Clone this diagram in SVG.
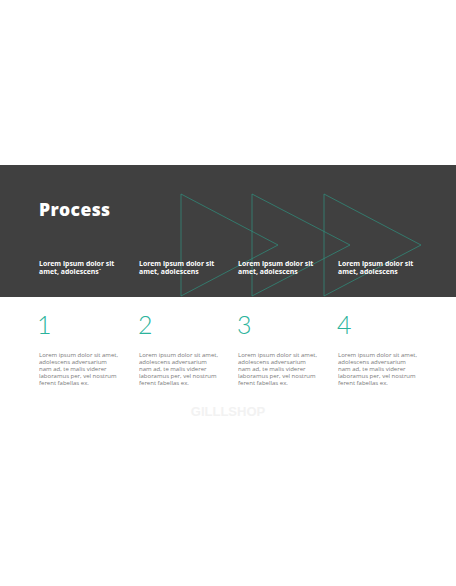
<svg xmlns="http://www.w3.org/2000/svg" width="456" height="586" viewBox="0 0 456 586">
<style>
.tri{fill:none;stroke:#2f8f7d;stroke-width:0.9;stroke-opacity:0.8}
.sub{font-family:"Open Sans","Liberation Sans",sans-serif;font-weight:700;font-size:6.9px;fill:#ffffff}
.num{font-family:Lato,"Liberation Sans",sans-serif;font-weight:300;font-size:25px;fill:#2bb39c}
.body{font-family:"Open Sans","Liberation Sans",sans-serif;font-size:6px;fill:#7a7a7a}
</style>
<rect width="456" height="586" fill="#ffffff"/>
<rect x="0" y="165" width="456" height="132" fill="#404040"/>
<g id="triangles">
<polygon class="tri" points="181,194 278,245 181,296"/>
<polygon class="tri" points="252,194 350,245 252,296"/>
<polygon class="tri" points="324,194 421,245 324,296"/>
</g>
<text id="title" x="39" y="216" font-family="'Open Sans','Liberation Sans',sans-serif" font-weight="800" font-size="17.5" letter-spacing="0.4" fill="#ffffff">Process</text>
<g id="step1">
<text class="sub" x="39" y="266">Lorem ipsum dolor sit</text>
<text class="sub" x="39" y="274">amet, adolescens`</text>
<text class="num" x="37" y="334">1</text>
<text class="body"><tspan x="39" y="357">Lorem ipsum dolor sit amet,</tspan><tspan x="39" y="364">adolescens adversarium</tspan><tspan x="39" y="371">nam ad, te malis viderer</tspan><tspan x="39" y="378">laboramus per, vel nostrum</tspan><tspan x="39" y="385">ferent fabellas ex.</tspan></text>
</g>
<g id="step2">
<text class="sub" x="139" y="266">Lorem ipsum dolor sit</text>
<text class="sub" x="139" y="274">amet, adolescens</text>
<text class="num" x="138" y="334">2</text>
<text class="body"><tspan x="139" y="357">Lorem ipsum dolor sit amet,</tspan><tspan x="139" y="364">adolescens adversarium</tspan><tspan x="139" y="371">nam ad, te malis viderer</tspan><tspan x="139" y="378">laboramus per, vel nostrum</tspan><tspan x="139" y="385">ferent fabellas ex.</tspan></text>
</g>
<g id="step3">
<text class="sub" x="238" y="266">Lorem ipsum dolor sit</text>
<text class="sub" x="238" y="274">amet, adolescens</text>
<text class="num" x="237" y="334">3</text>
<text class="body"><tspan x="238" y="357">Lorem ipsum dolor sit amet,</tspan><tspan x="238" y="364">adolescens adversarium</tspan><tspan x="238" y="371">nam ad, te malis viderer</tspan><tspan x="238" y="378">laboramus per, vel nostrum</tspan><tspan x="238" y="385">ferent fabellas ex.</tspan></text>
</g>
<g id="step4">
<text class="sub" x="338" y="266">Lorem ipsum dolor sit</text>
<text class="sub" x="338" y="274">amet, adolescens</text>
<text class="num" x="337" y="334">4</text>
<text class="body"><tspan x="338" y="357">Lorem ipsum dolor sit amet,</tspan><tspan x="338" y="364">adolescens adversarium</tspan><tspan x="338" y="371">nam ad, te malis viderer</tspan><tspan x="338" y="378">laboramus per, vel nostrum</tspan><tspan x="338" y="385">ferent fabellas ex.</tspan></text>
</g>
<text id="watermark" x="228" y="416" text-anchor="middle" font-family="'Liberation Sans',sans-serif" font-weight="700" font-size="13" fill="#f2f2f2">GILLLSHOP</text>
</svg>
